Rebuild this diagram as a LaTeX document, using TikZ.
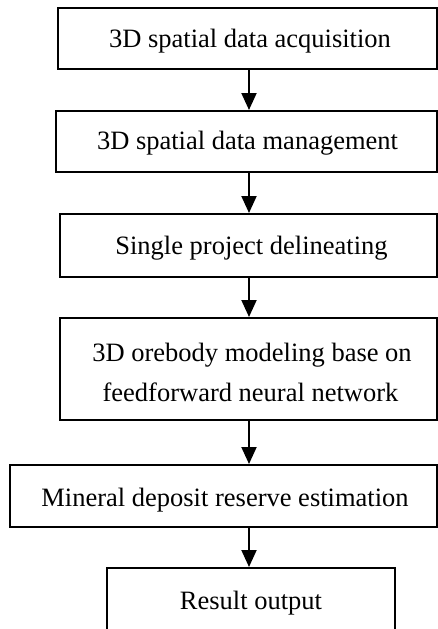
\documentclass[tikz,border=0pt]{standalone}
\usepackage{fontspec}
\setmainfont{Liberation Serif}
\usetikzlibrary{arrows.meta}
\begin{document}
\begin{tikzpicture}[x=1pt,y=-1pt,
  box/.style={draw=black,line width=2pt,rectangle,inner sep=0pt},
  lbl/.style={anchor=base,inner sep=0pt,font=\fontsize{26.5}{32}\selectfont},
  arr/.style={draw=black,line width=2pt,-{Triangle[width=15pt,length=17pt]},shorten >=0pt}]
\useasboundingbox (0,0) rectangle (438,629);
\clip (0,0) rectangle (438,629);
\fill[white] (0,0) rectangle (438,629);
% boxes
\node[box,minimum width=379pt,minimum height=61pt] (b1) at (247.5,38.5) {};
\node[box,minimum width=381pt,minimum height=61pt] (b2) at (246.5,141.5) {};
\node[box,minimum width=377pt,minimum height=63pt] (b3) at (248.5,245.5) {};
\node[box,minimum width=377pt,minimum height=102pt] (b4) at (248.5,369) {};
\node[box,minimum width=427pt,minimum height=62pt] (b5) at (223.5,496) {};
\node[box,minimum width=288pt,minimum height=72pt] (b6) at (251,604) {};
% labels
\node[lbl] (t1) at (250,47) {3D spatial data acquisition};
\node[lbl] (t2) at (247.5,149.5) {3D spatial data management};
\node[lbl] (t3) at (251.5,254.5) {Single project delineating};
\node[lbl] (t4a) at (252,361) {3D orebody modeling base on};
\node[lbl] (t4b) at (250.5,401) {feedforward neural network};
\node[lbl] (t5) at (225,506) {Mineral deposit reserve estimation};
\node[lbl] (t6) at (251,609) {Result output};
% connectors
\coordinate (ax) at (249,0);
\draw[arr] (b1.south -| ax) -- (b2.north -| ax);
\draw[arr] (b2.south -| ax) -- (b3.north -| ax);
\draw[arr] (b3.south -| ax) -- (b4.north -| ax);
\draw[arr] (b4.south -| ax) -- (b5.north -| ax);
\draw[arr] (b5.south -| ax) -- (b6.north -| ax);
\end{tikzpicture}
\end{document}
